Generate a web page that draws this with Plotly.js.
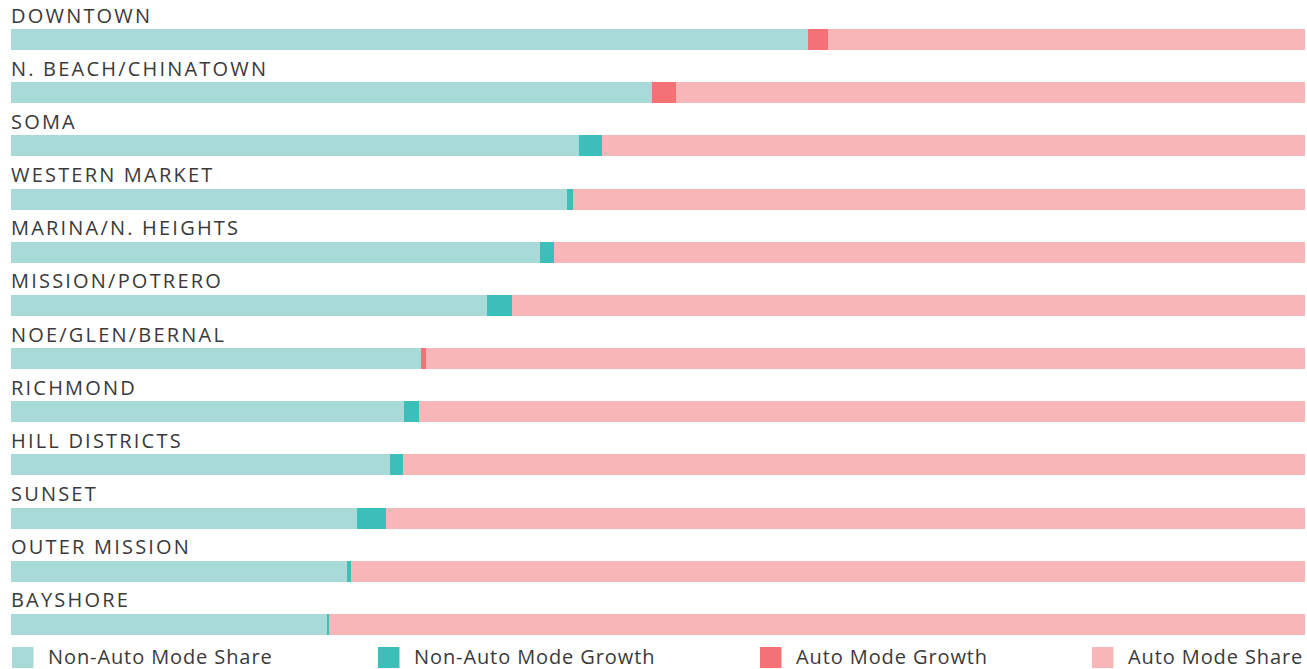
<!DOCTYPE html>
<html>
<head>
<meta charset="utf-8">
<script src="https://cdn.plot.ly/plotly-3.0.1.min.js"></script>
<style>html,body{margin:0;padding:0;background:#fff;}#chart{width:1307px;height:669px;}</style>
</head>
<body>
<div id="chart"></div>
<script>
const districts = ["DOWNTOWN","N. BEACH/CHINATOWN","SOMA","WESTERN MARKET","MARINA/N. HEIGHTS","MISSION/POTRERO","NOE/GLEN/BERNAL","RICHMOND","HILL DISTRICTS","SUNSET","OUTER MISSION","BAYSHORE"];
const nonAutoShare  = [61.6, 49.5, 43.9, 43.0, 40.9, 36.8, 31.7, 30.4, 29.3, 26.7, 26.0, 24.4];
const nonAutoGrowth = [0,    0,    1.8,  0.4,  1.1,  1.9,  0,    1.1,  1.0,  2.3,  0.3,  0.2];
const autoGrowth    = [1.5,  1.9,  0,    0,    0,    0,    0.4,  0,    0,    0,    0,    0];
const autoShare     = [36.9, 48.6, 54.3, 56.6, 58.0, 61.3, 67.9, 68.5, 69.7, 71.0, 73.7, 75.4];
const seriesNames = ["Non-Auto Mode Share","Non-Auto Mode Growth","Auto Mode Growth","Auto Mode Share"];
const seriesColors = ["#a8dbd7","#3dbfb9","#f47175","#f8b6b9"];
const seriesValues = [nonAutoShare, nonAutoGrowth, autoGrowth, autoShare];

const traces = seriesValues.map((vals, i) => ({
  type: "bar", orientation: "h", y: districts, x: vals, name: seriesNames[i],
  marker: {color: seriesColors[i], line: {width: 0}}, showlegend: false, hoverinfo: "name+x"
}));

const labelFont = {family: "Open Sans, sans-serif", size: 20, color: "#3a3a3a", weight: 500};
const annotations = districts.map(d => ({
  xref: "paper", x: -0.0004, xanchor: "left", yref: "y", y: d, yanchor: "bottom", yshift: 10,
  text: '<span style="letter-spacing:2.2px">' + d + '</span>', showarrow: false, font: labelFont, borderpad: 0
}));

const H = 669;
const W = 1307;
const legendX = [12, 378, 760, 1092];
const shapes = [];
seriesNames.forEach((n, i) => {
  const x0 = legendX[i];
  shapes.push({type: "rect", xref: "paper", yref: "paper",
    x0: (x0 - 11) / 1294, x1: (x0 + 21.5 - 11) / 1294,
    y0: 1 - 668 / H, y1: 1 - 647 / H, fillcolor: seriesColors[i], line: {width: 0}});
  annotations.push({xref: "paper", yref: "paper", x: (x0 + 35 - 11) / 1294, xanchor: "left",
    y: 1 - 656 / H, yanchor: "middle", text: '<span style="letter-spacing:0.9px">' + n + '</span>', showarrow: false, borderpad: 0,
    font: {family: "Open Sans, sans-serif", size: 20, color: "#3a3a3a"}});
});

const layout = {
  width: W, height: H,
  margin: {l: 11, r: 2, t: 0, b: 0},
  paper_bgcolor: "#fff", plot_bgcolor: "#fff",
  barmode: "stack", bargap: 0.605,
  xaxis: {range: [0, 100], visible: false, fixedrange: true},
  yaxis: {type: "category", range: [11.837, -0.743], visible: false, fixedrange: true},
  annotations: annotations, shapes: shapes
};
Plotly.newPlot("chart", traces, layout, {displayModeBar: false});
</script>
</body>
</html>
